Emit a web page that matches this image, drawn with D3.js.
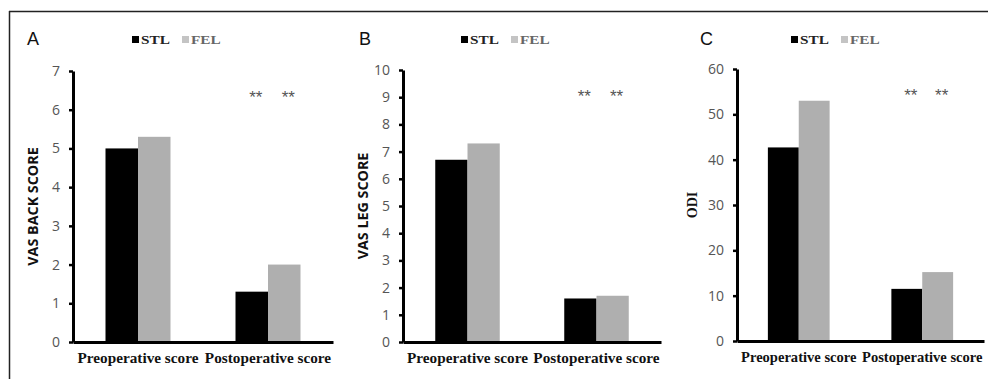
<!DOCTYPE html>
<html>
<head>
<meta charset="utf-8">
<script src="https://cdn.jsdelivr.net/npm/d3@7"></script>
<style>
  body { margin: 0; background: #fff; }
  svg { display: block; }
</style>
</head>
<body>
<div id="chart"></div>
<script>
// data
const categories = ["Preoperative score", "Postoperative score"];
const seriesNames = ["STL", "FEL"];
const seriesColors = ["#000000", "#afafaf"];

const vasBackSTL = [5.0, 1.3];
const vasBackFEL = [5.3, 2.0];
const vasLegSTL = [6.7, 1.6];
const vasLegFEL = [7.3, 1.7];
const odiSTL = [42.7, 11.5];
const odiFEL = [53.0, 15.2];

const vasBackTicks = [0, 1, 2, 3, 4, 5, 6, 7];
const vasLegTicks = [0, 1, 2, 3, 4, 5, 6, 7, 8, 9, 10];
const odiTicks = [0, 10, 20, 30, 40, 50, 60];

const W = 988, H = 379;
const serif = "'Liberation Serif', 'Times New Roman', serif";
const sans = "'Open Sans', 'Noto Sans', sans-serif";

let svg = d3.select("#chart")
  .append("svg")
  .attr("width", W)
  .attr("height", H);

// frame (top + left only)
svg.append("line").attr("x1", 9).attr("y1", 11.5).attr("x2", W).attr("y2", 11.5)
  .attr("stroke", "#222").attr("stroke-width", 1.5);
svg.append("line").attr("x1", 9.5).attr("y1", 11).attr("x2", 9.5).attr("y2", H)
  .attr("stroke", "#222").attr("stroke-width", 1.5);

function drawPanel(p) {
  let g = svg.append("g");

  let x = d3.scaleBand()
    .domain(categories)
    .range([p.left, p.right])
    .paddingInner(0.5)
    .paddingOuter(0.25);

  let xs = d3.scaleBand()
    .domain(seriesNames)
    .range([0, x.bandwidth()]);

  let y = d3.scaleLinear()
    .domain([0, d3.max(p.ticks)])
    .range([p.bottom, p.top]);

  let rows = categories.map((c, i) => ({ cat: c, vals: [p.stl[i], p.fel[i]] }));

  // bars
  g.selectAll(".grp")
    .data(rows)
    .enter()
    .append("g")
    .attr("transform", d => `translate(${x(d.cat)},0)`)
    .selectAll("rect")
    .data(d => d.vals.map((v, k) => ({ k: k, v: v })))
    .enter()
    .append("rect")
    .attr("x", d => xs(seriesNames[d.k]))
    .attr("width", xs.bandwidth())
    .attr("y", d => y(d.v))
    .attr("height", d => y(0) - y(d.v))
    .attr("fill", d => seriesColors[d.k]);

  // y axis
  let ya = g.append("g")
    .attr("transform", `translate(${p.left},0)`)
    .call(d3.axisLeft(y).tickValues(p.ticks).tickFormat(d3.format("d"))
      .tickSize(4).tickSizeOuter(0).tickPadding(9));
  ya.select(".domain").attr("stroke", "#000").attr("stroke-width", 3);
  ya.selectAll(".tick line").attr("stroke", "#000").attr("stroke-width", 2.5);
  ya.selectAll(".tick text")
    .attr("fill", "#555")
    .style("font-family", sans)
    .style("font-size", "14px");

  // x axis
  let xa = g.append("g")
    .attr("transform", `translate(0,${p.bottom})`)
    .call(d3.axisBottom(x).tickSize(0).tickSizeOuter(0).tickPadding(11));
  xa.select(".domain").attr("stroke", "#000").attr("stroke-width", 3);
  xa.selectAll(".tick text")
    .attr("fill", "#111")
    .attr("transform", `scale(${p.labelStretch},1)`)
    .style("font-family", serif)
    .style("font-weight", "bold")
    .style("font-size", "14px");

  // y axis title
  g.append("text")
    .attr("transform", `translate(${p.titleX},${(p.top + p.bottom) / 2}) rotate(-90)`)
    .attr("text-anchor", "middle")
    .style("font-family", p.titleSerif ? serif : sans)
    .style("font-weight", "bold")
    .style("font-size", p.titleSerif ? "14px" : "14.3px")
    .attr("fill", "#111")
    .text(p.title);

  // panel letter
  g.append("text")
    .attr("x", p.letterX)
    .attr("y", 45)
    .style("font-family", "'Liberation Sans', Arial, sans-serif")
    .style("font-size", "18px")
    .attr("fill", "#111")
    .text(p.letter);

  // legend
  let lg = g.append("g").attr("transform", `translate(${p.legendX},0)`);
  seriesNames.forEach((s, k) => {
    let ox = k * 50;
    lg.append("rect")
      .attr("x", ox).attr("y", 36).attr("width", 7).attr("height", 7)
      .attr("fill", k == 0 ? "#000" : "#c4c4c4");
    lg.append("text")
      .attr("transform", `translate(${ox + 9},44) scale(1.22,1)`)
      .style("font-family", serif)
      .style("font-weight", "bold")
      .style("font-size", "12.5px")
      .attr("fill", k == 0 ? "#222" : "#666")
      .text(s);
  });

  // significance marks over postoperative bars
  g.selectAll(".sig")
    .data(seriesNames)
    .enter()
    .append("text")
    .attr("x", d => x(categories[1]) + xs(d) + xs.bandwidth() / 2 + 4)
    .attr("y", p.starY)
    .attr("text-anchor", "middle")
    .style("font-family", "'Liberation Sans', Arial, sans-serif")
    .style("font-size", "17px")
    .attr("fill", "#555")
    .text("**");
}

drawPanel({ left: 73, right: 333, top: 71, bottom: 342, ticks: vasBackTicks,
  stl: vasBackSTL, fel: vasBackFEL, title: "VAS BACK SCORE", titleX: 38,
  letter: "A", letterX: 27, legendX: 132, starY: 103, labelStretch: 1.09 });

drawPanel({ left: 403, right: 661, top: 70, bottom: 342, ticks: vasLegTicks,
  stl: vasLegSTL, fel: vasLegFEL, title: "VAS LEG SCORE", titleX: 368,
  letter: "B", letterX: 359, legendX: 461, starY: 102, labelStretch: 1.09 });

drawPanel({ left: 737, right: 984, top: 69, bottom: 341, ticks: odiTicks,
  stl: odiSTL, fel: odiFEL, title: "ODI", titleX: 697, titleSerif: true,
  letter: "C", letterX: 700, legendX: 791, starY: 101, labelStretch: 1.04 });
</script>
</body>
</html>
